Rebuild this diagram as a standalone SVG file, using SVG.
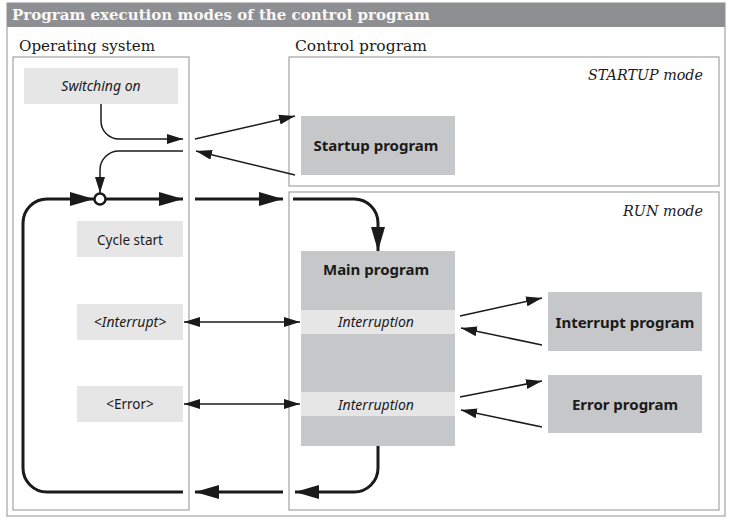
<svg xmlns="http://www.w3.org/2000/svg" width="730" height="521" viewBox="0 0 730 521">
<style>
.frame{fill:#fff;stroke:#a3a3a3;stroke-width:1.2}
.light{fill:#e6e6e7}
.dark{fill:#c6c7c9}
.serif{font-family:"DejaVu Serif","Liberation Serif",serif;fill:#1a1a1a}
.sans{font-family:"Noto Sans","Open Sans",sans-serif;fill:#1a1a1a}
.it{font-size:14px;font-style:italic}
.rg{font-size:13.5px}
.bd{font-size:15px;font-weight:bold}
.thin{fill:none;stroke:#1a1a1a;stroke-width:1.5}
.thick{fill:none;stroke:#1a1a1a;stroke-width:3}
</style>
<defs>
<marker id="a" markerUnits="userSpaceOnUse" markerWidth="16" markerHeight="10" refX="16" refY="5" orient="auto-start-reverse"><path d="M0,0 L16,5 L0,10 Z" fill="#1a1a1a"/></marker>
<marker id="b" markerUnits="userSpaceOnUse" markerWidth="24" markerHeight="14" refX="24" refY="7" orient="auto"><path d="M0,0 L24,7 L0,14 Z" fill="#1a1a1a"/></marker>
</defs>
<rect x="0" y="0" width="730" height="521" fill="#fff"/>
<g id="outer">
<rect x="7" y="3" width="718" height="513" class="frame"/>
<rect x="7" y="3" width="718" height="24" fill="#8e8f93"/>
<text x="12" y="20" class="serif" font-size="14.5" font-weight="bold" style="fill:#f7f7f7" textLength="418" lengthAdjust="spacingAndGlyphs">Program execution modes of the control program</text>
</g>
<g id="os">
<text x="19" y="51" class="serif" font-size="15" textLength="136" lengthAdjust="spacingAndGlyphs">Operating system</text>
<rect x="13" y="57" width="176" height="453" class="frame"/>
</g>
<g id="control">
<text x="295" y="51" class="serif" font-size="15" textLength="132" lengthAdjust="spacingAndGlyphs">Control program</text>
</g>
<g id="startup-mode">
<rect x="289" y="57" width="430" height="129" class="frame"/>
<text x="703" y="80" class="serif" font-size="15" font-style="italic" text-anchor="end" textLength="115" lengthAdjust="spacingAndGlyphs">STARTUP mode</text>
</g>
<g id="run-mode">
<rect x="289" y="192" width="430" height="318" class="frame"/>
<text x="703" y="216" class="serif" font-size="15" font-style="italic" text-anchor="end" textLength="80" lengthAdjust="spacingAndGlyphs">RUN mode</text>
</g>
<g id="switching-on">
<rect x="24" y="68" width="154" height="36" class="light"/>
<text x="101" y="91" class="sans it" text-anchor="middle">Switching on</text>
</g>
<g id="cycle-start">
<rect x="77" y="221" width="106" height="36" class="light"/>
<text x="130" y="245" class="sans rg" text-anchor="middle">Cycle start</text>
</g>
<g id="interrupt">
<rect x="77" y="304" width="106" height="36" class="light"/>
<text x="130" y="327" class="sans it" text-anchor="middle">&lt;Interrupt&gt;</text>
</g>
<g id="error">
<rect x="77" y="386" width="106" height="36" class="light"/>
<text x="130" y="409" class="sans rg" text-anchor="middle">&lt;Error&gt;</text>
</g>
<g id="startup-program">
<rect x="301" y="116" width="154" height="59" class="dark"/>
<text x="376" y="151" class="sans bd" text-anchor="middle">Startup program</text>
</g>
<g id="main-program">
<rect x="301" y="251" width="154" height="195" class="dark"/>
<text x="376" y="275" class="sans bd" text-anchor="middle">Main program</text>
<rect x="301" y="310" width="154" height="24" class="light"/>
<text x="376" y="327" class="sans it" text-anchor="middle">Interruption</text>
<rect x="301" y="392" width="154" height="24" class="light"/>
<text x="376" y="410" class="sans it" text-anchor="middle">Interruption</text>
</g>
<g id="interrupt-program">
<rect x="548" y="292" width="154" height="59" class="dark"/>
<text x="625" y="328" class="sans bd" text-anchor="middle">Interrupt program</text>
</g>
<g id="error-program">
<rect x="548" y="375" width="154" height="58" class="dark"/>
<text x="625" y="410" class="sans bd" text-anchor="middle">Error program</text>
</g>
<g id="connectors">
<path class="thin" d="M101,104 V121 A18,18 0 0 0 119,139 H183" marker-end="url(#a)"/>
<path class="thin" d="M195,139 L295,116" marker-end="url(#a)"/>
<path class="thin" d="M295,175 L196,151" marker-end="url(#a)"/>
<path class="thin" d="M183,151 H119 A19,19 0 0 0 100,170 V193" marker-end="url(#a)"/>
<path class="thick" d="M106,199 H183" marker-end="url(#b)"/>
<path class="thick" d="M183,492 H47 A24,24 0 0 1 23,468 V223 A24,24 0 0 1 47,199 H94" marker-end="url(#b)"/>
<path class="thick" d="M195,199 H283" marker-end="url(#b)"/>
<path class="thick" d="M293,199 H354 A24,24 0 0 1 378,223 V251" marker-end="url(#b)"/>
<path class="thick" d="M378,446 V468 A24,24 0 0 1 354,492 H295" marker-end="url(#b)"/>
<path class="thick" d="M283,492 H195" marker-end="url(#b)"/>
<path class="thin" d="M184,322 H300" marker-start="url(#a)" marker-end="url(#a)"/>
<path class="thin" d="M184,404 H300" marker-start="url(#a)" marker-end="url(#a)"/>
<path class="thin" d="M460,316 L542,298" marker-end="url(#a)"/>
<path class="thin" d="M542,345 L461,328" marker-end="url(#a)"/>
<path class="thin" d="M460,397 L542,381" marker-end="url(#a)"/>
<path class="thin" d="M542,427 L461,410" marker-end="url(#a)"/>
<circle cx="100" cy="199" r="5.5" fill="#fff" stroke="#1a1a1a" stroke-width="2.5"/>
</g>
</svg>
